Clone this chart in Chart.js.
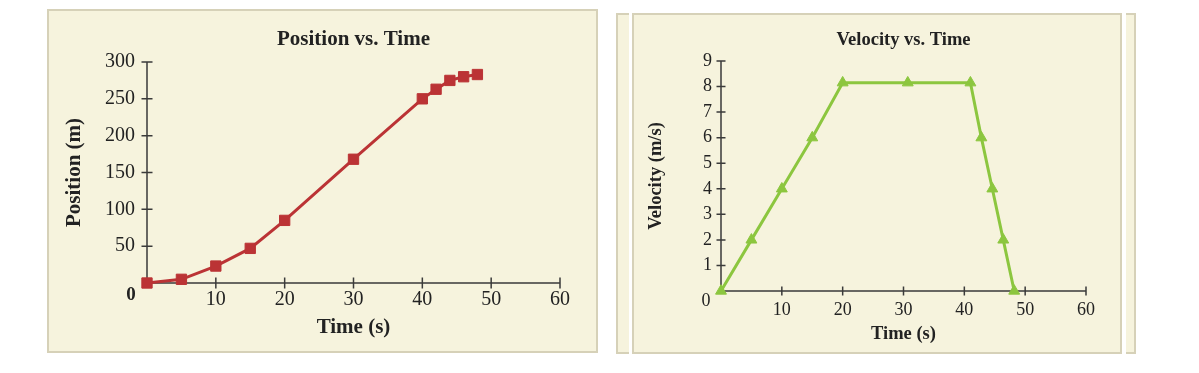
<!DOCTYPE html>
<html>
<head>
<meta charset="utf-8">
<script src="https://cdn.jsdelivr.net/npm/chart.js@4.4.1/dist/chart.umd.min.js"></script>
<style>
  html, body { margin:0; padding:0; background:#ffffff; width:1199px; height:373px; overflow:hidden; }
  .panel { position:absolute; box-sizing:border-box; background:#f6f3dd; border:2px solid #d6d1b8; }
  .white { position:absolute; background:#ffffff; }
  .cv { position:absolute; top:0; }
</style>
</head>
<body>
<div class="panel" style="left:47px; top:9px; width:551px; height:344px;"></div>
<div class="panel" style="left:616px; top:13px; width:520px; height:341px;"></div>
<div class="white" style="left:629px; top:13px; width:497px; height:341px;"></div>
<div class="panel" style="left:632px; top:13px; width:490px; height:341px;"></div>
<canvas id="pos" class="cv" style="left:0px;" width="600" height="373"></canvas>
<canvas id="vel" class="cv" style="left:600px;" width="599" height="373"></canvas>
<script>
// ---- data ----
const posTime  = [0, 5, 10, 15, 20, 30, 40, 42, 44, 46, 48];
const posValue = [0, 5, 23, 47, 85, 168, 250, 263, 275, 280, 283];
const velTime  = [0, 5, 10, 15, 20, 30.7, 41, 42.8, 44.6, 46.4, 48.2];
const velValue = [0, 2, 4, 6, 8.15, 8.15, 8.15, 6, 4, 2, 0];
const timeTicks = [0, 10, 20, 30, 40, 50, 60];
const posTicks = [0, 50, 100, 150, 200, 250, 300];
const velTicks = [0, 1, 2, 3, 4, 5, 6, 7, 8, 9];

const SERIF = '"Liberation Serif", "Times New Roman", serif';
const INK = '#222222';
const AXIS = '#3a3a3a';

function pts(xs, ys) { return xs.map((x, i) => ({x: x, y: ys[i]})); }

const axisCross = {
  id: 'axisCross',
  beforeDatasetsDraw(chart, args, o) {
    const {ctx} = chart;
    const x = chart.scales.x, y = chart.scales.y;
    const x0 = x.getPixelForValue(x.min), x1 = x.getPixelForValue(x.max);
    const y0 = y.getPixelForValue(y.min), y1 = y.getPixelForValue(y.max);
    ctx.save();
    ctx.strokeStyle = AXIS;
    ctx.lineWidth = o.width;
    ctx.beginPath();
    ctx.moveTo(x0, y0); ctx.lineTo(x1, y0);
    ctx.moveTo(x0, y0); ctx.lineTo(x0, y1);
    x.ticks.forEach(t => {
      if (t.value === 0) return;
      const p = x.getPixelForValue(t.value);
      ctx.moveTo(p, y0 - o.half); ctx.lineTo(p, y0 + o.half);
    });
    y.ticks.forEach(t => {
      if (t.value === 0) return;
      const p = y.getPixelForValue(t.value);
      ctx.moveTo(x0 - o.half, p); ctx.lineTo(x0 + o.half, p);
    });
    ctx.stroke();
    ctx.fillStyle = INK;
    ctx.font = o.zeroFont;
    ctx.textAlign = 'center';
    ctx.textBaseline = 'middle';
    ctx.fillText('0', x0 + o.zeroDx, y0 + o.zeroDy);
    ctx.restore();
  }
};

function makeChart(id, cfg) {
  return new Chart(document.getElementById(id), {
    type: 'scatter',
    data: {
      datasets: [{
        data: pts(cfg.xs, cfg.ys),
        showLine: true,
        tension: 0,
        borderColor: cfg.color,
        backgroundColor: cfg.color,
        borderWidth: 3,
        pointStyle: cfg.pointStyle,
        pointRadius: cfg.pointRadius,
        pointBorderWidth: 1,
        pointBorderColor: cfg.color,
        pointBackgroundColor: cfg.color,
        clip: false
      }]
    },
    options: {
      responsive: false,
      animation: false,
      events: [],
      layout: { padding: cfg.pad },
      plugins: {
        legend: { display: false },
        tooltip: { enabled: false },
        title: {
          display: true, text: cfg.title, fullSize: false, color: INK,
          font: { family: SERIF, size: cfg.titleSize, weight: 'bold' },
          padding: cfg.titlePad
        },
        axisCross: cfg.cross
      },
      scales: {
        x: {
          type: 'linear', min: 0, max: 60,
          afterBuildTicks: s => { s.ticks = timeTicks.map(v => ({value: v})); },
          ticks: { padding: cfg.xTickPad, color: INK, font: { family: SERIF, size: cfg.tickSize }, callback: v => v === 0 ? '' : v },
          grid: { display: false, drawTicks: false },
          border: { display: false },
          title: { display: true, text: 'Time (s)', color: INK, padding: 0, font: { family: SERIF, size: cfg.axisTitleSize, weight: 'bold' } },
          afterFit: s => { s.height = cfg.xHeight; }
        },
        y: {
          type: 'linear', min: cfg.yTicks[0], max: cfg.yTicks[cfg.yTicks.length - 1],
          afterBuildTicks: s => { s.ticks = cfg.yTicks.map(v => ({value: v})); },
          ticks: { padding: cfg.yTickPad, color: INK, font: { family: SERIF, size: cfg.tickSize }, callback: v => v === 0 ? '' : v },
          grid: { display: false, drawTicks: false },
          border: { display: false },
          title: { display: true, text: cfg.yTitle, color: INK, padding: 0, font: { family: SERIF, size: cfg.axisTitleSize, weight: 'bold' } },
          afterFit: s => { s.width = cfg.yWidth; }
        }
      }
    },
    plugins: [axisCross]
  });
}

makeChart('pos', {
  xs: posTime, ys: posValue, yTicks: posTicks,
  color: '#bb3335', pointStyle: 'rect', pointRadius: 7.3,
  title: 'Position vs. Time', yTitle: 'Position (m)',
  titleSize: 21, axisTitleSize: 21, tickSize: 20,
  pad: { left: 62, top: 10, right: 40, bottom: 32.4 },
  titlePad: { top: 17.4, bottom: 9.4 },
  xTickPad: 5, yTickPad: 12, xHeight: 57.6, yWidth: 85,
  cross: { width: 1.5, half: 5.5, zeroFont: 'bold 19px ' + SERIF, zeroDx: -16, zeroDy: 12 }
});

makeChart('vel', {
  xs: velTime, ys: velValue, yTicks: velTicks,
  color: '#8cc63f', pointStyle: 'triangle', pointRadius: 6.3,
  title: 'Velocity vs. Time', yTitle: 'Velocity (m/s)',
  titleSize: 18.5, axisTitleSize: 18.5, tickSize: 18,
  pad: { left: 44.9, top: 10, right: 113, bottom: 27.9 },
  titlePad: { top: 18.9, bottom: 9.9 },
  xTickPad: 8.2, yTickPad: 9, xHeight: 54.1, yWidth: 76.1,
  cross: { width: 1.5, half: 4.5, zeroFont: '18px ' + SERIF, zeroDx: -15, zeroDy: 10 }
});
</script>
</body>
</html>
